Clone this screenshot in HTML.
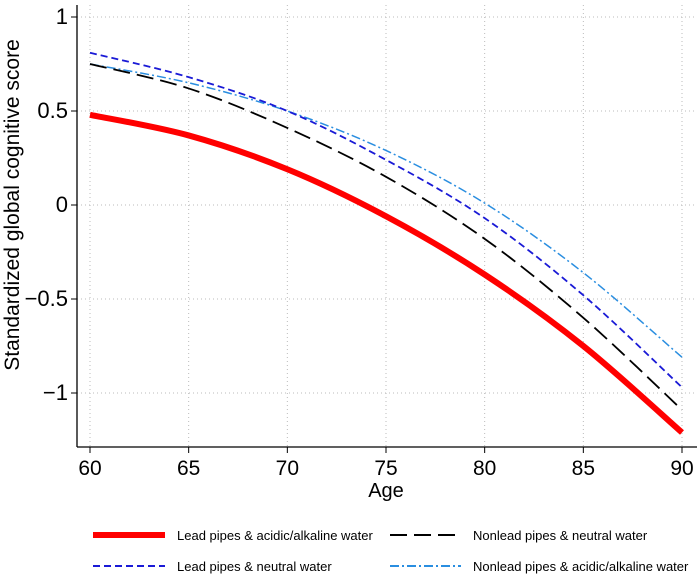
<!DOCTYPE html>
<html><head><meta charset="utf-8"><style>
body{margin:0;background:#fff;font-family:"Liberation Sans",Arial,sans-serif}
svg text{font-family:"Liberation Sans",Arial,sans-serif}
</style></head><body>
<svg id="chart" width="700" height="575" viewBox="0 0 700 575">
<g id="grid"></g>
<g id="series"></g>
<g id="axes"></g>
<text transform="translate(19,205) rotate(-90)" text-anchor="middle" font-size="21">Standardized global cognitive score</text>
<text x="386" y="497" text-anchor="middle" font-size="20">Age</text>
<g font-size="13">
 <g>
  <line x1="93" y1="535" x2="165" y2="535" stroke="#f00" stroke-width="6"/>
  <text x="177" y="540">Lead pipes &amp; acidic/alkaline water</text></g>
 <g>
  <line x1="390" y1="535" x2="461" y2="535" stroke="#000" stroke-width="2" stroke-dasharray="17,7"/>
  <text x="473" y="540">Nonlead pipes &amp; neutral water</text></g>
 <g>
  <line x1="93" y1="566" x2="165" y2="566" stroke="#1a1ad6" stroke-width="2" stroke-dasharray="7,4"/>
  <text x="177" y="571">Lead pipes &amp; neutral water</text></g>
 <g>
  <line x1="390" y1="566" x2="461" y2="566" stroke="#2a8ee0" stroke-width="2" stroke-dasharray="9,3,2,3"/>
  <text x="473" y="571">Nonlead pipes &amp; acidic/alkaline water</text></g>
</g>
</svg>
<script>
const ages = [60,65,70,75,80,85,90];
const leadAcidic = [0.48,0.37,0.19,-0.06,-0.37,-0.75,-1.21];
const nonleadNeutral = [0.75,0.62,0.41,0.15,-0.18,-0.60,-1.09];
const leadNeutral = [0.81,0.68,0.50,0.24,-0.07,-0.48,-0.97];
const nonleadAcidic = [0.75,0.65,0.50,0.29,0.01,-0.36,-0.81];
const xTicks = [60,65,70,75,80,85,90];
const yTicks = [1,0.5,0,-0.5,-1];
const yTickLabels = ["1","0.5","0","\u22120.5","\u22121"];

const NS="http://www.w3.org/2000/svg";
function xS(v){return 90+(v-60)*(682-90)/30;}
function yS(v){return 205-v*188;}
const L=77,R=697,T=5,B=447;
function mk(tag,attrs,parent){const e=document.createElementNS(NS,tag);for(const k in attrs)e.setAttribute(k,attrs[k]);parent.appendChild(e);return e;}
const grid=document.getElementById('grid'),axes=document.getElementById('axes'),ser=document.getElementById('series');
xTicks.forEach(t=>{
 const g=mk('line',{x1:xS(t),x2:xS(t),y1:T,y2:B,stroke:'#bbb','stroke-width':1,'stroke-dasharray':'1,3'},grid);
 
 
 const tk=mk('line',{x1:xS(t),x2:xS(t),y1:B,y2:B+6,stroke:'#000','stroke-width':1},axes);
 
 
 const tx=mk('text',{x:xS(t),y:B+28,'text-anchor':'middle','font-size':21},axes);
 tx.textContent=t;
 
 
});
yTicks.forEach((t,i)=>{
 const g=mk('line',{x1:L,x2:R,y1:yS(t),y2:yS(t),stroke:'#bbb','stroke-width':1,'stroke-dasharray':'1,3'},grid);
 
 
 const tk=mk('line',{x1:L-6,x2:L,y1:yS(t),y2:yS(t),stroke:'#000','stroke-width':1},axes);
 
 
 const tx=mk('text',{x:L-9,y:yS(t)+7,'text-anchor':'end','font-size':22},axes);
 tx.textContent=yTickLabels[i];
 
 
});
const ya=mk('line',{x1:L,x2:L,y1:T,y2:B,stroke:'#000','stroke-width':1.3},axes);


const xa=mk('line',{x1:L,x2:R,y1:B,y2:B,stroke:'#000','stroke-width':1.3},axes);


function pathD(vals){
 const p=ages.map((a,i)=>[xS(a),yS(vals[i])]);
 let d='M'+p[0][0]+','+p[0][1];
 for(let i=0;i<p.length-1;i++){
  const p0=p[Math.max(i-1,0)],p1=p[i],p2=p[i+1],p3=p[Math.min(i+2,p.length-1)];
  const c1=[p1[0]+(p2[0]-p0[0])/6,p1[1]+(p2[1]-p0[1])/6];
  const c2=[p2[0]-(p3[0]-p1[0])/6,p2[1]-(p3[1]-p1[1])/6];
  d+=' C'+c1+' '+c2+' '+p2;
 }
 return d;
}
const specs=[
 [nonleadAcidic,'#2a8ee0',1.5,'9,3,2,3','line-nonlead-acidic'],
 [leadNeutral,'#1a1ad6',1.8,'7,4','line-lead-neutral'],
 [nonleadNeutral,'#000',1.8,'17,7','line-nonlead-neutral'],
 [leadAcidic,'#f00',6,'','line-lead-acidic']
];
specs.forEach(s=>{
 const e=mk('path',{d:pathD(s[0]),fill:'none',stroke:s[1],'stroke-width':s[2]},ser);
 if(s[3])e.setAttribute('stroke-dasharray',s[3]);
 
 
});
</script>
</body></html>
